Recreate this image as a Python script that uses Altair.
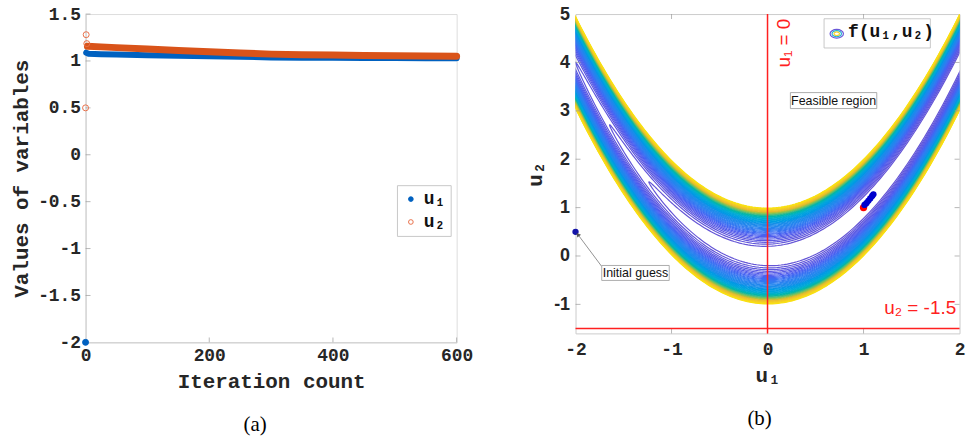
import math
import altair as alt
import numpy as np
import pandas as pd

MONO = "Liberation Mono"
SANS = "Liberation Sans"
SERIF = "Liberation Serif"

# ---------------- panel (a) data ----------------
start_iters = [0, 1, 2]
u1_start_iters = [0]
u1_start_vals = [-2.0]
u2_start_vals = [0.5, 1.28, 1.185]

u1_band_iters = [1, 5, 25, 50, 100, 150, 200, 250, 300, 350, 400, 450, 500, 550, 600]
u1_band_vals = [1.088, 1.077, 1.072, 1.068, 1.062, 1.056, 1.050, 1.044, 1.038, 1.035,
                1.033, 1.032, 1.031, 1.030, 1.030]
u2_band_iters = [3, 25, 50, 100, 150, 200, 250, 300, 350, 400, 450, 500, 550, 600]
u2_band_vals = [1.156, 1.150, 1.142, 1.127, 1.112, 1.098, 1.085, 1.073, 1.067, 1.063,
                1.059, 1.056, 1.052, 1.050]

series_names = ["u\u2081", "u\u2082"]
a_y_ticks = [-2, -1.5, -1, -0.5, 0, 0.5, 1, 1.5]
a_x_ticks = [0, 200, 400, 600]
a_x_range = [0, 600]
a_y_range = [-2, 1.5]

# ---------------- panel (b) data ----------------
levels = [5, 7, 9, 11, 13, 15, 17, 19, 21, 23, 25, 27, 29, 31, 33, 35, 37, 39, 41, 43,
          45, 47, 49, 51, 53, 55, 57, 59, 61, 63, 65, 67, 69, 71, 73, 75, 77, 79, 81, 83,
          85, 87, 89, 91, 93, 95, 97, 99]
parula = ["#6556d6", "#4c5ef0", "#2f7ff0", "#1a8fe8", "#0ca8d8", "#30b890", "#e8b830", "#f9e010"]

traj_u1 = [1.103, 1.09, 1.07, 1.05, 1.03, 1.01]
traj_u2 = [1.275, 1.24, 1.19, 1.14, 1.09, 1.055]
optimum_u1 = [1.0]
optimum_u2 = [1.0]
guess_u1 = [-2.0]
guess_u2 = [0.5]
constraint_u1 = [0]
constraint_u2 = [-1.5]
b_x_ticks = [-2, -1, 0, 1, 2]
b_y_ticks = [-1, 0, 1, 2, 3, 4, 5]
b_x_range = [-2, 2]
b_y_range = [-1.6, 5]

# annotation texts and anchor positions (data coordinates)
box_labels = ["Feasible region", "Initial guess"]
box_u1 = [0.238, -1.727]
box_u1_end = [1.138, -1.024]
box_u2 = [3.377, -0.196]
box_u2_end = [3.047, -0.505]
arrow_from = [-1.727, -0.216]
arrow_to = [-1.975, 0.443]
red_labels = ["u\u2081 = 0", "u\u2082 = -1.5"]
red_u1 = [0.175, 1.965]
red_u2 = [4.4, -1.08]
f_legend_box = [0.589, 1.696, 4.903, 4.299]
f_legend_symbol = [0.721, 4.594]
f_legend_text = [0.838, 4.62]

TICK_COLOR = "#9a9a9a"

# ---------------- panel (a) chart ----------------
pts_a = pd.DataFrame({
    "iter": u1_start_iters + start_iters,
    "value": u1_start_vals + u2_start_vals,
    "series": [series_names[0]] * len(u1_start_iters) + [series_names[1]] * len(start_iters),
})
band_a = pd.DataFrame({
    "iter": u1_band_iters + u2_band_iters,
    "value": u1_band_vals + u2_band_vals,
    "series": [series_names[0]] * len(u1_band_iters) + [series_names[1]] * len(u2_band_iters),
})

xsa = alt.Scale(domain=a_x_range, nice=False)
ysa = alt.Scale(domain=a_y_range, nice=False, zero=False)
xa = alt.X("iter:Q", scale=xsa,
           axis=alt.Axis(values=a_x_ticks, title="Iteration count", labelExpr="'' + datum.value",
                         labelFont=MONO, labelFontWeight="bold", labelFontSize=18, labelColor="#262626",
                         titleFont=MONO, titleFontWeight="bold", titleFontSize=21, titleColor="#262626",
                         labelPadding=4, titlePadding=6, ticks=False, grid=False,
                         domainColor="#cccccc", labelFlush=False))
ya = alt.Y("value:Q", scale=ysa,
           axis=alt.Axis(values=a_y_ticks, title="Values of variables", labelExpr="'' + datum.value",
                         labelFont=MONO, labelFontWeight="bold", labelFontSize=18, labelColor="#262626",
                         titleFont=MONO, titleFontWeight="bold", titleFontSize=21, titleColor="#262626",
                         labelPadding=5, titlePadding=6, ticks=False, grid=False,
                         domainColor="#cccccc", labelFlush=False))

# inward tick marks (MATLAB style)
a_xt = pd.DataFrame({"iter": a_x_ticks[1:], "value": [a_y_range[0]] * (len(a_x_ticks) - 1)})
a_yt = pd.DataFrame({"iter": [a_x_range[0]] * (len(a_y_ticks) - 1), "value": a_y_ticks[1:]})
a_xticks = alt.Chart(a_xt).mark_tick(orient="vertical", size=5, thickness=1, color=TICK_COLOR,
                                     yOffset=-2.5).encode(
    x=alt.X("iter:Q", scale=xsa), y=alt.Y("value:Q", scale=ysa))
a_yticks = alt.Chart(a_yt).mark_tick(orient="horizontal", size=5, thickness=1, color=TICK_COLOR,
                                     xOffset=2.5).encode(
    x=alt.X("iter:Q", scale=xsa), y=alt.Y("value:Q", scale=ysa))

u1_band_chart = alt.Chart(band_a).transform_filter(
    alt.datum.series == series_names[0]
).mark_line(color="#0061c0", strokeWidth=6, strokeCap="round").encode(x=xa, y=ya, order="iter:Q")
u2_band_chart = alt.Chart(band_a).transform_filter(
    alt.datum.series == series_names[1]
).mark_line(color="#d95319", strokeWidth=7, strokeCap="round").encode(x=xa, y=ya, order="iter:Q")

legend_a = alt.Legend(title=None, orient="none", legendX=313, legendY=172,
                      strokeColor="#c8c8c8", fillColor="white", padding=5,
                      labelFont=MONO, labelFontWeight="bold", labelFontSize=18, labelColor="#111111",
                      symbolSize=22, symbolStrokeWidth=1, rowPadding=5, labelOffset=4)
pts_chart = alt.Chart(pts_a).mark_point(filled=False, size=36, strokeWidth=1, opacity=1).encode(
    x=xa, y=ya,
    stroke=alt.Stroke("series:N", scale=alt.Scale(domain=series_names, range=["#0061c0", "#e8704a"]),
                      legend=legend_a),
    fill=alt.Fill("series:N", scale=alt.Scale(domain=series_names, range=["#0061c0", "transparent"]),
                  legend=legend_a),
)

left = alt.layer(a_xticks, a_yticks, u1_band_chart, u2_band_chart, pts_chart).properties(
    width=373, height=330,
    title=alt.TitleParams("(a)", orient="bottom", font=SERIF, fontSize=21, fontWeight="normal",
                          color="black", dx=-16, offset=23),
)

# ---------------- panel (b) chart ----------------
rows = []
for L in levels:
    s = math.sqrt(L)
    t_hi = math.acos(max(-1.0, -1.02 / s))
    c = 3.02 / s
    if c >= 1:
        parts = [("c", np.linspace(-t_hi, t_hi, 260))]
    else:
        t_lo = math.acos(c)
        up = np.linspace(t_lo, t_hi, 140)
        parts = [("a", up), ("b", -up)]
    for name, ts in parts:
        u1 = 1 - s * np.cos(ts)
        u2 = u1 ** 2 + s / 10.0 * np.sin(ts)
        for k, (p, q) in enumerate(zip(u1, u2)):
            rows.append({"level": L, "part": f"{L}{name}", "k": k,
                         "u1": round(float(p), 4), "u2": round(float(q), 4)})
contour_df = pd.DataFrame(rows)

xb_axis = alt.Axis(values=b_x_ticks, title="u\u2081", labelExpr="'' + datum.value",
                   labelFont=MONO, labelFontWeight="bold", labelFontSize=18, labelColor="#262626",
                   titleFont=MONO, titleFontWeight="bold", titleFontSize=21, titleColor="#262626",
                   labelPadding=7, titlePadding=6, ticks=False, grid=False, domain=False, labelFlush=False)
yb_axis = alt.Axis(values=b_y_ticks, title="u\u2082", labelExpr="'' + datum.value",
                   labelFont=SANS, labelFontWeight="bold", labelFontSize=18, labelColor="#262626",
                   titleFont=MONO, titleFontWeight="bold", titleFontSize=21, titleColor="#262626",
                   labelPadding=6, titlePadding=8, ticks=False, grid=False, domain=False, labelFlush=False)
xsc = alt.Scale(domain=b_x_range, nice=False, zero=False)
ysc = alt.Scale(domain=b_y_range, nice=False, zero=False)

n = len(parula)
color_domain = [levels[0] + i * (levels[-1] - levels[0]) / (n - 1) for i in range(n)]

contours = alt.Chart(contour_df).mark_line(strokeWidth=1.2, clip=True).encode(
    x=alt.X("u1:Q", scale=xsc, axis=xb_axis),
    y=alt.Y("u2:Q", scale=ysc, axis=yb_axis),
    detail="part:N",
    order="k:Q",
    color=alt.Color("level:Q", scale=alt.Scale(domain=color_domain, range=parula), legend=None),
)

# inward ticks on all four sides
inner_x = b_x_ticks[1:-1]
inner_y = b_y_ticks[:-1]
bt_x = pd.DataFrame({"u1": inner_x * 2, "u2": [b_y_range[0]] * len(inner_x) + [b_y_range[1]] * len(inner_x),
                     "side": [1] * len(inner_x) + [-1] * len(inner_x)})
bt_y = pd.DataFrame({"u1": [b_x_range[0]] * len(inner_y) + [b_x_range[1]] * len(inner_y), "u2": inner_y * 2,
                     "side": [1] * len(inner_y) + [-1] * len(inner_y)})
b_ticks = []
for side in [1, -1]:
    b_ticks.append(alt.Chart(bt_x).transform_filter(alt.datum.side == side).mark_tick(
        orient="vertical", size=5, thickness=1, color=TICK_COLOR, yOffset=-2.5 * side).encode(
        x=alt.X("u1:Q", scale=xsc), y=alt.Y("u2:Q", scale=ysc)))
    b_ticks.append(alt.Chart(bt_y).transform_filter(alt.datum.side == side).mark_tick(
        orient="horizontal", size=5, thickness=1, color=TICK_COLOR, xOffset=2.5 * side).encode(
        x=alt.X("u1:Q", scale=xsc), y=alt.Y("u2:Q", scale=ysc)))

vrule = alt.Chart(pd.DataFrame({"u1": constraint_u1})).mark_rule(color="#ff2020", strokeWidth=1.5).encode(
    x=alt.X("u1:Q", scale=xsc))
hrule = alt.Chart(pd.DataFrame({"u2": constraint_u2})).mark_rule(color="#ff2020", strokeWidth=1.5).encode(
    y=alt.Y("u2:Q", scale=ysc))

opt_pt = alt.Chart(pd.DataFrame({"u1": optimum_u1, "u2": optimum_u2})).mark_circle(
    color="#ff0000", size=55, opacity=1).encode(x=alt.X("u1:Q", scale=xsc), y=alt.Y("u2:Q", scale=ysc))
traj_df = pd.DataFrame({"u1": traj_u1, "u2": traj_u2, "k": list(range(len(traj_u1)))})
traj_line = alt.Chart(traj_df).mark_line(color="#0000cc", strokeWidth=5, strokeCap="round").encode(
    x=alt.X("u1:Q", scale=xsc), y=alt.Y("u2:Q", scale=ysc), order="k:Q")
traj_pts = alt.Chart(traj_df).mark_circle(color="#0000cc", size=40, opacity=1).encode(
    x=alt.X("u1:Q", scale=xsc), y=alt.Y("u2:Q", scale=ysc))
guess_pt = alt.Chart(pd.DataFrame({"u1": guess_u1, "u2": guess_u2})).mark_circle(
    color="#1414a8", size=40, opacity=1).encode(x=alt.X("u1:Q", scale=xsc), y=alt.Y("u2:Q", scale=ysc))

arrow_df = pd.DataFrame({"u1": [arrow_from[0]], "u2": [arrow_from[1]],
                         "u1e": [arrow_to[0]], "u2e": [arrow_to[1]]})
arrow_line = alt.Chart(arrow_df).mark_rule(color="#777777", strokeWidth=0.8).encode(
    x=alt.X("u1:Q", scale=xsc), y=alt.Y("u2:Q", scale=ysc), x2="u1e:Q", y2="u2e:Q")
arrow_head = alt.Chart(arrow_df).mark_point(shape="triangle-up", filled=True, color="#555555",
                                            size=22, angle=323, opacity=1).encode(
    x=alt.X("u1e:Q", scale=xsc), y=alt.Y("u2e:Q", scale=ysc))

box_df = pd.DataFrame({"label": box_labels, "x1": box_u1, "x2": box_u1_end, "y1": box_u2, "y2": box_u2_end})
boxes = alt.Chart(box_df).mark_rect(fill="white", stroke="#999999", strokeWidth=0.8).encode(
    x=alt.X("x1:Q", scale=xsc), x2="x2:Q", y=alt.Y("y1:Q", scale=ysc), y2="y2:Q")
box_text = alt.Chart(box_df).transform_calculate(
    cx="(datum.x1 + datum.x2) / 2", cy="(datum.y1 + datum.y2) / 2"
).mark_text(font=SANS, fontSize=12.5, color="#111111", baseline="middle", align="center").encode(
    x=alt.X("cx:Q", scale=xsc), y=alt.Y("cy:Q", scale=ysc), text="label:N")

red_df = pd.DataFrame({"label": red_labels, "u1": red_u1, "u2": red_u2})
red_v = alt.Chart(red_df.iloc[[0]]).mark_text(font=SANS, fontSize=19, color="#ff2020", angle=270,
                                               baseline="middle", align="center").encode(
    x=alt.X("u1:Q", scale=xsc), y=alt.Y("u2:Q", scale=ysc), text="label:N")
red_h = alt.Chart(red_df.iloc[[1]]).mark_text(font=SANS, fontSize=19, color="#ff2020",
                                               baseline="middle", align="right").encode(
    x=alt.X("u1:Q", scale=xsc), y=alt.Y("u2:Q", scale=ysc), text="label:N")

flb = pd.DataFrame({"x1": [f_legend_box[0]], "x2": [f_legend_box[1]],
                    "y1": [f_legend_box[2]], "y2": [f_legend_box[3]]})
f_box = alt.Chart(flb).mark_rect(fill="white", stroke="#bbbbbb", strokeWidth=0.8).encode(
    x=alt.X("x1:Q", scale=xsc), x2="x2:Q", y=alt.Y("y1:Q", scale=ysc), y2="y2:Q")
ellipse = ("M -1 0 C -1 -0.36 -0.55 -0.65 0 -0.65 C 0.55 -0.65 1 -0.36 1 0 "
           "C 1 0.36 0.55 0.65 0 0.65 C -0.55 0.65 -1 0.36 -1 0 Z")
sym_df = pd.DataFrame({"u1": [f_legend_symbol[0]] * 3, "u2": [f_legend_symbol[1]] * 3,
                       "ring": [0, 1, 2]})
f_syms = []
for ring, (sz, col) in enumerate([(180, "#6a58d8"), (90, "#22b0d0"), (30, "#f2cf2a")]):
    f_syms.append(alt.Chart(sym_df).transform_filter(alt.datum.ring == ring).mark_point(
        shape=ellipse, size=sz, stroke=col, strokeWidth=1.2, filled=False, opacity=1).encode(
        x=alt.X("u1:Q", scale=xsc), y=alt.Y("u2:Q", scale=ysc)))
f_text = alt.Chart(pd.DataFrame({"u1": [f_legend_text[0]], "u2": [f_legend_text[1]],
                                 "label": ["f(u\u2081,u\u2082)"]})).mark_text(
    font=MONO, fontWeight="bold", fontSize=18, color="#111111", align="left", baseline="middle").encode(
    x=alt.X("u1:Q", scale=xsc), y=alt.Y("u2:Q", scale=ysc), text="label:N")

right = alt.layer(
    contours, *b_ticks, vrule, hrule, opt_pt, traj_line, traj_pts, guess_pt,
    arrow_line, arrow_head, boxes, box_text, red_v, red_h, f_box, *f_syms, f_text
).properties(
    width=386, height=321,
    view=alt.ViewBackground(stroke="#cccccc", strokeWidth=1),
    title=alt.TitleParams("(b)", orient="bottom", font=SERIF, fontSize=21, fontWeight="normal",
                          color="black", dx=-8, offset=23),
)

chart = alt.hconcat(left, right, spacing=119.5, bounds="flush").resolve_scale(
    x="independent", y="independent", color="independent", stroke="independent", fill="independent"
).properties(
    padding={"left": 10, "top": 3, "right": 0, "bottom": 0}
).configure_view(stroke=None).configure(background="white")

chart.save("out.html", embed_options={"renderer": "svg", "actions": False})
